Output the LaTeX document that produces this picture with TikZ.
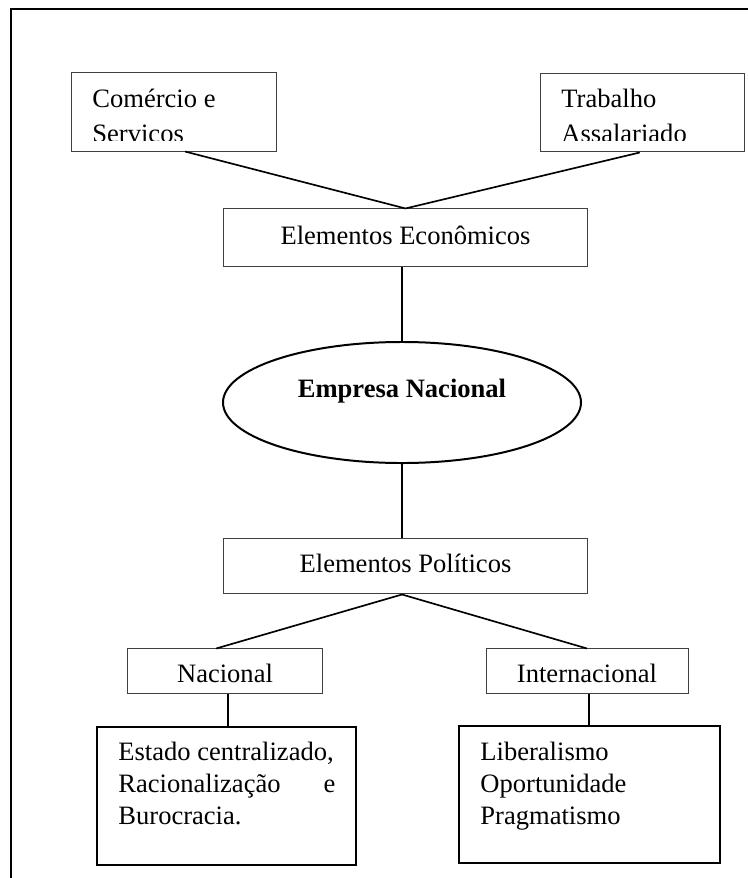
\documentclass[tikz,border=0pt]{standalone}
\usepackage{fontspec}
\setmainfont{Liberation Serif}
\usetikzlibrary{positioning, calc, shapes.geometric}

\begin{document}
\begin{tikzpicture}[
  x=0.452pt, y=-0.452pt,
  frame/.style={draw=black, line width=0.9pt},
  box/.style={
    rectangle, draw=black!75, line width=0.45pt, inner sep=0pt,
    font=\fontsize{12pt}{14.5pt}\selectfont
  },
  onebox/.style={box, text height=8pt, text depth=2.1pt},
  smallbox/.style={box, text height=10.8pt, text depth=0pt},
  listbox/.style={rectangle, draw=black, line width=0.9pt, inner sep=0pt},
  core/.style={
    ellipse, draw=black, line width=0.9pt, inner sep=0pt,
    minimum width=161.8pt, minimum height=54.7pt,
    font=\fontsize{12pt}{14.5pt}\selectfont\bfseries,
    text height=8pt, text depth=12.5pt
  },
  txt/.style={anchor=base west, inner sep=0pt},
  link/.style={line width=0.75pt},
]

\useasboundingbox (0,0) rectangle (748,878);
\draw[frame] (11,9) rectangle (775,905);

% Top boxes
\node[box, minimum width=93.1pt, minimum height=35.3pt] (comercio) at (174,112) {};
\node[box, minimum width=92.2pt, minimum height=35.7pt] (trabalho) at (642,112.5) {};
\begin{scope}
  \clip (comercio.north west) rectangle ([yshift=5.4pt]trabalho.south east);
  \node[txt, font=\fontsize{12pt}{16.2pt}\selectfont] (comerciotxt) at (92,107)
    {\parbox[t]{80pt}{Comércio e\\Servicos}};
  \node[txt, font=\fontsize{12pt}{16.2pt}\selectfont] (trabalhotxt) at (561,107)
    {\parbox[t]{80pt}{Trabalho\\Assalariado}};
\end{scope}

% Middle
\node[onebox, minimum width=164.1pt, minimum height=25.8pt] (econ) at (405.5,237.5)
  {Elementos Econômicos};
\node[core] (empresa) at (402,402.5) {Empresa Nacional};
\node[onebox, minimum width=164.1pt, minimum height=25.3pt] (politicos) at (405.5,566)
  {Elementos Políticos};

% Bottom
\node[smallbox, minimum width=87.7pt, minimum height=19.9pt] (nacional) at (225,671)
  {Nacional};
\node[smallbox, minimum width=91.3pt, minimum height=19.9pt] (internacional) at (587,671)
  {Internacional};
\node[listbox, minimum width=117.1pt, minimum height=62.4pt] (estado) at (226.5,796) {};
\node[listbox, minimum width=118pt, minimum height=61.9pt] (liberal) at (589.5,794.5) {};
\node[txt, font=\fontsize{12pt}{14.5pt}\selectfont] (estadotxt) at (118,760)
  {\parbox[t]{98pt}{Estado centralizado,\\Racionalização\hfill e\\Burocracia.}};
\node[txt, font=\fontsize{12pt}{14.5pt}\selectfont] (liberaltxt) at (480,760)
  {\parbox[t]{100pt}{Liberalismo\\Oportunidade\\Pragmatismo}};

% Connectors
\draw[link] ([xshift=5pt]comercio.south) -- (econ.north);
\draw[link] ([xshift=-1pt]trabalho.south) -- (econ.north);
\draw[link] (econ.south -| empresa.north) -- (empresa.north);
\draw[link] (empresa.south) -- (empresa.south |- politicos.north);
\draw[link] (politicos.south -| empresa.south) -- ([xshift=-4pt]nacional.north);
\draw[link] (politicos.south -| empresa.south) -- (internacional.north);
\draw[link] ([xshift=1.3pt]nacional.south) -- ([xshift=1.3pt]nacional.south |- estado.north);
\draw[link] ([xshift=1pt]internacional.south) -- ([xshift=1pt]internacional.south |- liberal.north);

\end{tikzpicture}
\end{document}
